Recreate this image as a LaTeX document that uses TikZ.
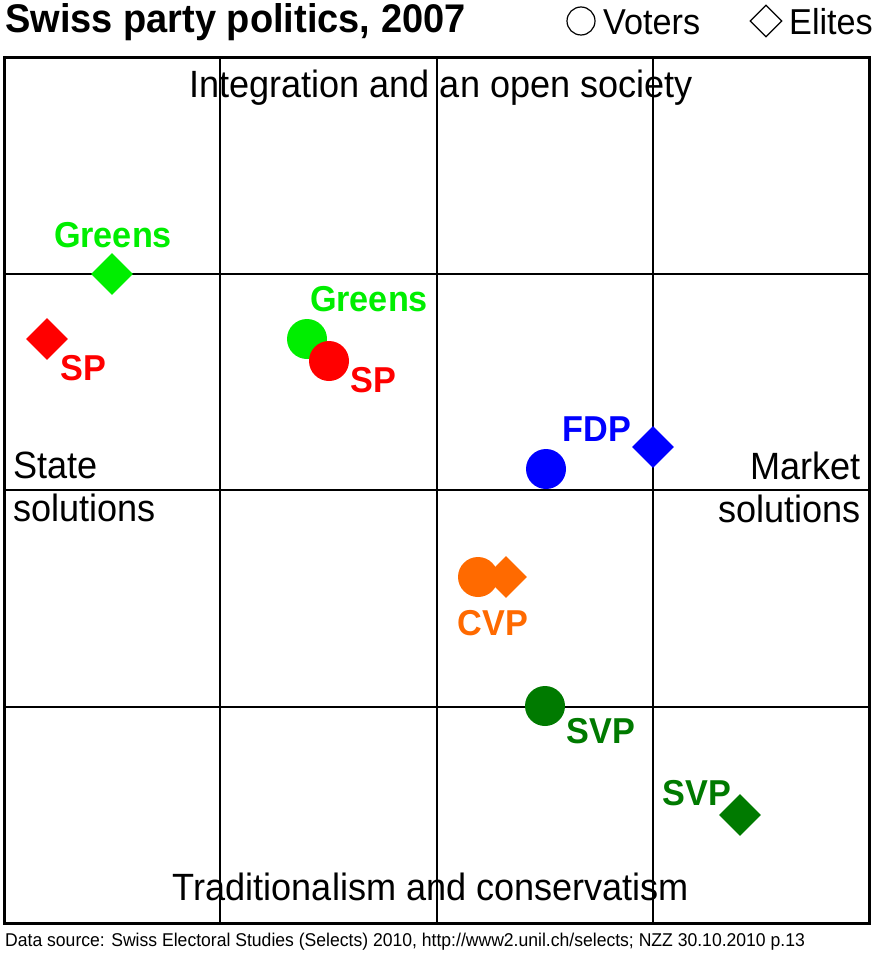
\documentclass[tikz,border=0pt]{standalone}
\usepackage{fontspec}
\setmainfont{Liberation Sans}[FakeStretch=0.95]
\usetikzlibrary{shapes.geometric}
\definecolor{lgreen}{HTML}{00EE00}
\definecolor{dgreen}{HTML}{007A00}
\definecolor{corange}{HTML}{FF6A00}
\tikzset{
  voter/.style={circle,fill=#1,minimum size=40pt,inner sep=0pt},
  elite/.style={diamond,fill=#1,minimum size=42pt,inner sep=0pt},
  party/.style={text=#1,font=\fontsize{36}{38}\selectfont\bfseries,inner sep=0pt},
  axis/.style={font=\fontsize{38}{43}\selectfont,inner sep=0pt,align=left},
  legend/.style={anchor=west,inner sep=0pt,font=\fontsize{36}{38}\selectfont}
}
\begin{document}
\begin{tikzpicture}[x=1pt,y=-1pt]
\useasboundingbox (0,0) rectangle (873,955);
\fill[white] (0,0) rectangle (873,955);

% grid
\foreach \g in {220,437,653}
  {\draw[line width=1.5pt] (\g,58) -- (\g,923);}
\foreach \g in {274,490,707}
  {\draw[line width=1.5pt] (4,\g) -- (869,\g);}
\draw[line width=3pt] (4,58) rectangle (869,923);

% header
\node[anchor=west,inner sep=0pt,font=\fontsize{40}{42}\selectfont\bfseries] (title) at (5,22) {Swiss party politics, 2007};
\node[circle,draw,line width=1.2pt,minimum size=28pt,inner sep=0pt] (lv) at (581,21) {};
\node[legend] (lvt) at (603,22) {Voters};
\node[diamond,draw,line width=1.2pt,minimum size=32pt,inner sep=0pt] (le) at (766,21) {};
\node[legend] (let) at (789,22) {Elites};

% axes
\node[axis] (top) at (441,88) {Integration and an open society};
\node[axis] (bot) at (431,887) {Traditionalism and conservatism};
\node[axis,anchor=north west] (left) at (13,452) {State\\solutions};
\node[axis,anchor=north east,align=right] (right) at (861,452) {Market\\solutions};

% parties
\node[elite=lgreen] (greE) at (112,274) {};
\node[party=lgreen] (greEt) at (113,235) {Greens};
\node[elite=red] (spE) at (47,339) {};
\node[party=red] (spEt) at (83,368) {SP};
\node[voter=lgreen] (greV) at (307,339) {};
\node[party=lgreen] (greVt) at (369,299) {Greens};
\node[voter=red] (spV) at (329,361) {};
\node[party=red] (spVt) at (373,380) {SP};
\node[voter=blue] (fdpV) at (546,469) {};
\node[elite=blue] (fdpE) at (653,447) {};
\node[party=blue] (fdpEt) at (597,429) {FDP};
\node[elite=corange] (cvpE) at (506,577) {};
\node[voter=corange] (cvpV) at (478,577) {};
\node[party=corange] (cvpt) at (493,623) {CVP};
\node[voter=dgreen] (svpV) at (545,706) {};
\node[party=dgreen] (svpVt) at (601,731) {SVP};
\node[elite=dgreen] (svpE) at (740,815) {};
\node[party=dgreen] (svpEt) at (697,793) {SVP};

% footer
\node[anchor=west,inner sep=0pt,font=\fontsize{18.5}{20}\selectfont] (src) at (5,942) {Data source: Swiss Electoral Studies (Selects) 2010, http://www2.unil.ch/selects; NZZ 30.10.2010 p.13};
\end{tikzpicture}
\end{document}
